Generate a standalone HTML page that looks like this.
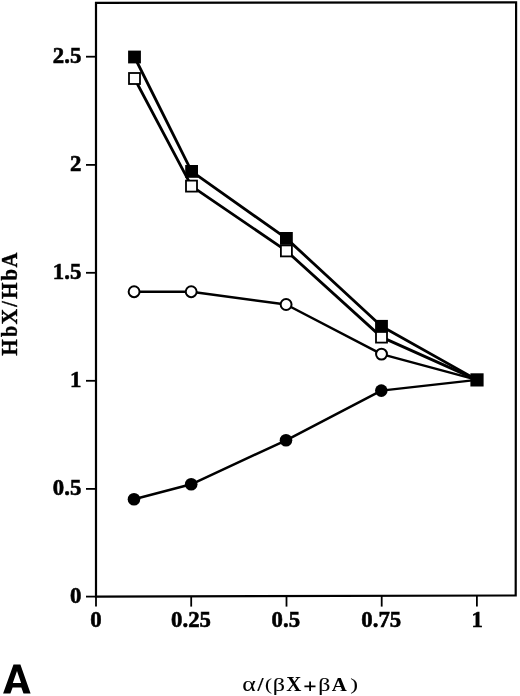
<!DOCTYPE html>
<html>
<head>
<meta charset="utf-8">
<style>
html,body{margin:0;padding:0;background:#fff;}
body{width:520px;height:696px;overflow:hidden;}
svg{display:block;will-change:transform;}
.t{font-family:"Liberation Serif",serif;font-weight:bold;font-size:23.5px;fill:#000;stroke:#000;stroke-width:0.6px;}
</style>
</head>
<body>
<svg width="520" height="696" viewBox="0 0 520 696">
<rect x="0" y="0" width="520" height="696" fill="#fff"/>
<!-- frame -->
<path d="M96 2.9 L516.1 2.3 L515.7 595.5 L96 596.6 Z" fill="none" stroke="#000" stroke-width="2.2"/>
<!-- y ticks -->
<g stroke="#000" stroke-width="1.8">
<line x1="86" y1="56.7" x2="96" y2="56.7"/>
<line x1="86" y1="164.9" x2="96" y2="164.9"/>
<line x1="86" y1="272.8" x2="96" y2="272.8"/>
<line x1="86" y1="380.8" x2="96" y2="380.8"/>
<line x1="86" y1="488.9" x2="96" y2="488.9"/>
<line x1="86" y1="596.6" x2="96" y2="596.6"/>
<!-- x ticks -->
<line x1="96" y1="596" x2="96" y2="606.6"/>
<line x1="191.2" y1="596" x2="191.2" y2="606.6"/>
<line x1="286.5" y1="596" x2="286.5" y2="606.6"/>
<line x1="381.7" y1="596" x2="381.7" y2="606.6"/>
<line x1="476.9" y1="596" x2="476.9" y2="606.6"/>
</g>
<!-- y tick labels -->
<g class="t" text-anchor="end">
<text transform="translate(81.3,62.8) scale(0.97,1)">2.5</text>
<text transform="translate(81.3,171.0) scale(0.97,1)">2</text>
<text transform="translate(81.3,278.9) scale(0.97,1)">1.5</text>
<text transform="translate(81.3,386.9) scale(0.97,1)">1</text>
<text transform="translate(81.3,495.0) scale(0.97,1)">0.5</text>
<text transform="translate(81.3,602.7) scale(0.97,1)">0</text>
</g>
<!-- x tick labels -->
<g class="t" text-anchor="middle">
<text transform="translate(96,627) scale(0.97,1)">0</text>
<text transform="translate(191,627) scale(0.97,1)">0.25</text>
<text transform="translate(285.8,627) scale(0.97,1)">0.5</text>
<text transform="translate(381.3,627) scale(0.97,1)">0.75</text>
<text transform="translate(477.2,627) scale(0.97,1)">1</text>
</g>
<!-- y title -->
<g style="font-family:'Liberation Serif',serif;font-weight:bold;font-size:100px;" fill="#000" stroke="#000" stroke-width="1.6">
<text transform="matrix(0 -0.2124 0.2366 0 16.8 355.66)">H</text>
<text transform="matrix(0 -0.1988 0.2366 0 16.8 337.06)">b</text>
<text transform="matrix(0 -0.2171 0.2366 0 16.8 324.41)">X</text>
<text transform="matrix(0 -0.2013 0.2366 0 16.8 306.80)">/</text>
<text transform="matrix(0 -0.2124 0.2366 0 16.8 299.06)">H</text>
<text transform="matrix(0 -0.2068 0.2366 0 16.8 280.47)">b</text>
<text transform="matrix(0 -0.2071 0.2366 0 16.8 267.41)">A</text>
</g>
<!-- x title -->
<g style="font-family:'Liberation Serif',serif;font-size:100px;" fill="#000" stroke="#000">
<text transform="matrix(0.2570 0 0 0.2075 242.22 691.49)" stroke-width="0.4">α</text>
<text transform="matrix(0.2148 0 0 0.1868 257.51 691.11)" font-weight="bold" stroke-width="0.8">/</text>
<text transform="matrix(0.2101 0 0 0.1720 265.08 690.24)" stroke-width="0.4">(</text>
<text transform="matrix(0.2413 0 0 0.1821 272.86 690.82)" stroke-width="0.4">β</text>
<text transform="matrix(0.2098 0 0 0.2015 286.30 691.20)" font-weight="bold" stroke-width="0.00">X</text>
<text transform="matrix(0.2388 0 0 0.1876 318.17 690.70)" stroke-width="0.4">β</text>
<text transform="matrix(0.2085 0 0 0.1924 331.79 691.00)" font-weight="bold" stroke-width="0.00">A</text>
<text transform="matrix(0.2335 0 0 0.1775 350.35 690.12)" stroke-width="0.4">)</text>
</g>
<path d="M304.4 686.4H315.5M310.1 681.6V690.9" stroke="#000" stroke-width="1.8" fill="none"/>
<!-- panel label -->
<path fill="#000" fill-rule="evenodd" d="M3.1 693.6L13.5 664.4L20.4 664.4L30.6 693.6L23.5 693.6L21.35 687.4L12.6 687.4L10.4 693.6ZM17 671.1L21.1 682.9L12.8 682.9Z"/>

<!-- series lines -->
<g fill="none" stroke="#000" stroke-linejoin="round">
<polyline stroke-width="2.8" points="134.5,57 191.6,171.4 286.4,238.4 381.5,326.3 477,379.9"/>
<polyline stroke-width="2.8" points="134.5,78.5 191.5,186.1 286.4,250.9 381.5,337.1 477,379.9"/>
<polyline stroke-width="2.45" points="134.1,291.7 191.2,291.7 286.1,304.5 381.5,354.1 477,379.9"/>
<polyline stroke-width="2.45" points="134,499.2 191.2,484.3 286,440.3 381.3,390.6 477,379.9"/>
</g>
<!-- open squares -->
<g fill="#fff" stroke="#000" stroke-width="1.8">
<rect x="129" y="73" width="11" height="11"/>
<rect x="186" y="180.6" width="11" height="11"/>
<rect x="280.9" y="245.4" width="11" height="11"/>
<rect x="376" y="331.6" width="11" height="11"/>
</g>
<!-- filled squares -->
<g fill="#000">
<rect x="128.1" y="50.6" width="12.8" height="12.8"/>
<rect x="185.2" y="165" width="12.8" height="12.8"/>
<rect x="280" y="232" width="12.8" height="12.8"/>
<rect x="375.1" y="319.9" width="12.8" height="12.8"/>
<rect x="470.4" y="373.3" width="13.2" height="13.2"/>
</g>
<!-- open circles -->
<g fill="#fff" stroke="#000" stroke-width="2">
<circle cx="134.1" cy="291.7" r="5.45"/>
<circle cx="191.2" cy="291.7" r="5.45"/>
<circle cx="286.1" cy="304.5" r="5.45"/>
<circle cx="381.5" cy="354.1" r="5.45"/>
</g>
<!-- filled circles -->
<g fill="#000">
<circle cx="134" cy="499.2" r="6.3"/>
<circle cx="191.2" cy="484.3" r="6.3"/>
<circle cx="286" cy="440.3" r="6.3"/>
<circle cx="381.3" cy="390.6" r="6.3"/>
</g>
</svg>
</body>
</html>
